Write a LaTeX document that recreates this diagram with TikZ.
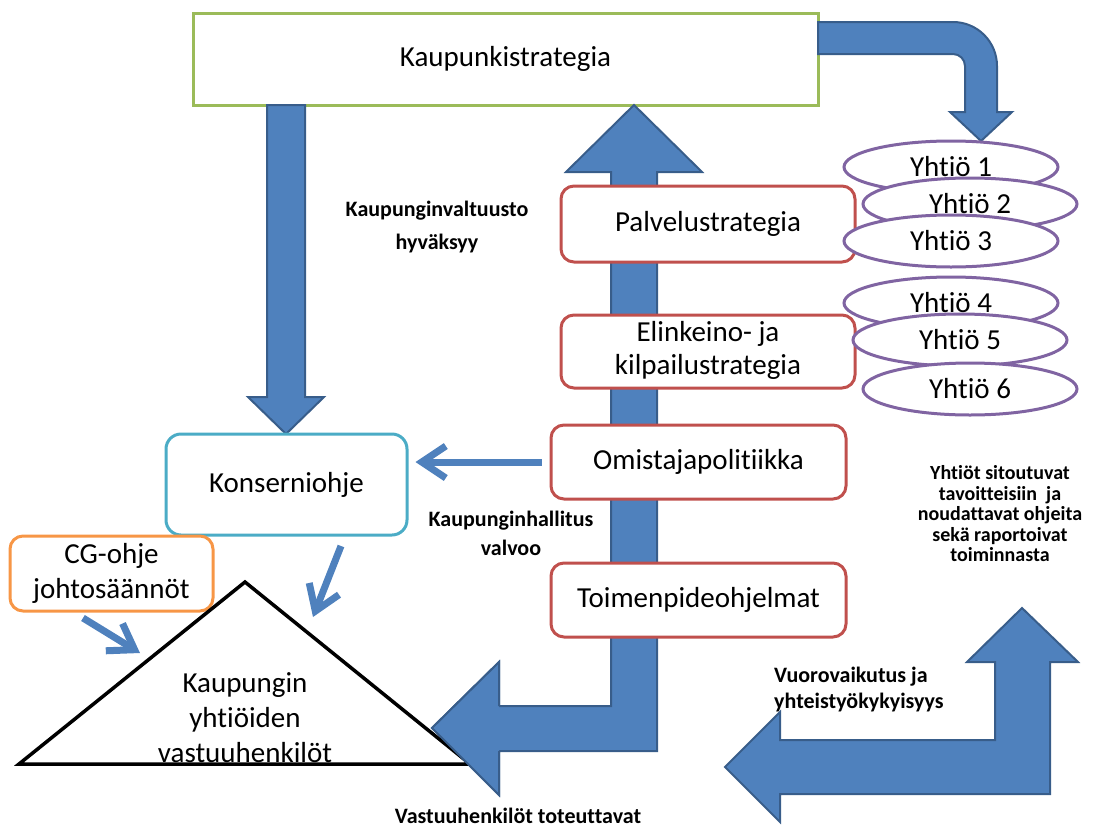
\documentclass[tikz,border=0pt]{standalone}
\usepackage{fontspec}
\setmainfont{Carlito}[Ligatures=NoCommon]
\usetikzlibrary{arrows.meta,shapes.geometric}
\definecolor{arrowfill}{HTML}{4F81BD}
\definecolor{arrowline}{HTML}{385D8A}
\definecolor{boxgreen}{HTML}{9BBB59}
\definecolor{boxred}{HTML}{C0504D}
\definecolor{boxteal}{HTML}{4BACC6}
\definecolor{boxorange}{HTML}{F79646}
\definecolor{ringpurple}{HTML}{8064A2}
\tikzset{
  blockarrow/.style={fill=arrowfill, draw=arrowline, line width=2pt, line join=miter},
  thinarrow/.style={draw=arrowfill, line width=7pt, -{Straight Barb[length=24pt, width=32pt]}},
  maintext/.style={font=\fontsize{29}{35}\selectfont, align=center, inner sep=0pt},
  greenbox/.style={draw=boxgreen, line width=3pt, fill=white, maintext},
  redbox/.style={draw=boxred, line width=3pt, fill=white, rounded corners=13pt, maintext},
  tealbox/.style={draw=boxteal, line width=3pt, fill=white, rounded corners=15pt, maintext},
  orangebox/.style={draw=boxorange, line width=3pt, fill=white, rounded corners=13pt, maintext},
  company/.style={ellipse, draw=ringpurple, line width=3pt, fill=white, maintext,
    minimum width=214pt, minimum height=52pt},
  label/.style={font=\bfseries\fontsize{22}{26}\selectfont, align=center, inner sep=0pt}
}
\begin{document}
\begin{tikzpicture}[x=1pt, y=-1pt]
\useasboundingbox (0,0) rectangle (1105,830);

% strategy level
\node[greenbox, minimum width=625pt, minimum height=92pt] (strategy) at (505.5,59) {Kaupunkistrategia};

% council approval arrow down to the group guideline
\draw[blockarrow] (267,105) -- (267,397) -- (248,397) -- (286,434) -- (324,397) -- (305,397) -- (305,105) -- cycle;

% bent arrow from strategy to the companies
\draw[blockarrow] (818,22) -- (953,22) .. controls (977.3,22) and (997,41.7) .. (997,66)
  -- (997,112) -- (1012,112) -- (981,141) -- (950,112) -- (965,112) -- (965,66)
  .. controls (965,59.4) and (959.6,54) .. (953,54) -- (818,54) -- cycle;

% central L-shaped arrow (up to strategy, left to the responsible persons)
\coordinate (lcorner) at (657,751);
\draw[blockarrow] (lcorner) -- (657,172) -- (702,172) -- (634,105) -- (566,172) -- (611,172)
  -- (611,706) -- (499,706) -- (499,662) -- (432,728) -- (499,795) -- (499,751) -- cycle;

% bottom-right two-headed L arrow
\draw[blockarrow] (1050,794) -- (1050,662) -- (1078,662) -- (1022,608) -- (967,662) -- (995,662)
  -- (995,740) -- (780,740) -- (780,712) -- (725,767) -- (780,822) -- (780,794) -- cycle;

% sub-strategies and programmes
\node[redbox, minimum width=294pt, minimum height=76pt] (service) at (708,224) {Palvelustrategia};
\node[redbox, minimum width=294pt, minimum height=73pt] (business) at (708,351.5)
  {\raisebox{-4pt}{\fontsize{29}{33}\selectfont\begin{tabular}{@{}c@{}}Elinkeino- ja\\kilpailustrategia\end{tabular}}};
\node[redbox, minimum width=295pt, minimum height=74pt] (ownership) at (698.5,462) {Omistajapolitiikka};
\node[redbox, minimum width=295pt, minimum height=74pt] (actions) at (698.5,600) {Toimenpideohjelmat};

% group guideline and CG guideline
\node[tealbox, minimum width=241pt, minimum height=101pt] (group) at (286.5,484.5) {Konserniohje};
\node[orangebox, minimum width=203pt, minimum height=75pt] (cg) at (111.5,573.5) {CG-ohje\\johtosäännöt};

% responsible persons triangle
\coordinate (apex) at (245,582);
\coordinate (baseL) at (19,764);
\coordinate (baseR) at (470,764);
\node[maintext] (persons) at (245,718) {Kaupungin\\yhtiöiden\\vastuuhenkilöt};
\draw[line width=3.5pt, line join=miter] (apex) -- (baseR) -- (baseL) -- cycle;

% arrow head of the L arrow lies over the triangle corner
\draw[blockarrow] (499,751) -- (499,795) -- (432,728) -- (499,662) -- (499,706);
\fill[arrowfill] (497,707.5) rectangle (520,749.5);

% small arrows
\coordinate (cgfrom) at (83,618);
\coordinate (cgto) at (140,653);
\draw[thinarrow] (cgfrom) -- (cgto);
\coordinate (grfrom) at (341,546);
\coordinate (grto) at (313,617);
\draw[thinarrow] (grfrom) -- (grto);
\draw[thinarrow] ([xshift=-8pt]ownership.west) -- ([xshift=7pt]ownership.west -| group.east);

% companies
\node[company] (c1) at (951,167) {\raisebox{-6pt}{Yhtiö 1}};
\node[company] (c2) at (970,204) {\raisebox{-4pt}{Yhtiö 2}};
\node[company] (c3) at (951,241) {Yhtiö 3};
\node[company] (c4) at (951,303) {\raisebox{-4pt}{Yhtiö 4}};
\node[company] (c5) at (960,340) {Yhtiö 5};
\node[company] (c6) at (970,389) {Yhtiö 6};

% labels
\node[label, font=\bfseries\fontsize{22}{33}\selectfont] (approve) at (437,227) {Kaupunginvaltuusto\\hyväksyy};
\node[label, font=\bfseries\fontsize{22}{29}\selectfont] (supervise) at (511,533) {Kaupunginhallitus\\valvoo};
\node[label, font=\bfseries\fontsize{20}{20.5}\selectfont] (commit) at (1000,514) {Yhtiöt sitoutuvat\\tavoitteisiin~ ja\\noudattavat ohjeita\\sekä raportoivat\\toiminnasta};
\node[label, align=left, anchor=west, font=\bfseries\fontsize{22}{26}\selectfont] (interact) at (774,690) {Vuorovaikutus ja\\yhteistyökykyisyys};
\node[label] (implement) at (518,816) {Vastuuhenkilöt toteuttavat};
\end{tikzpicture}
\end{document}
